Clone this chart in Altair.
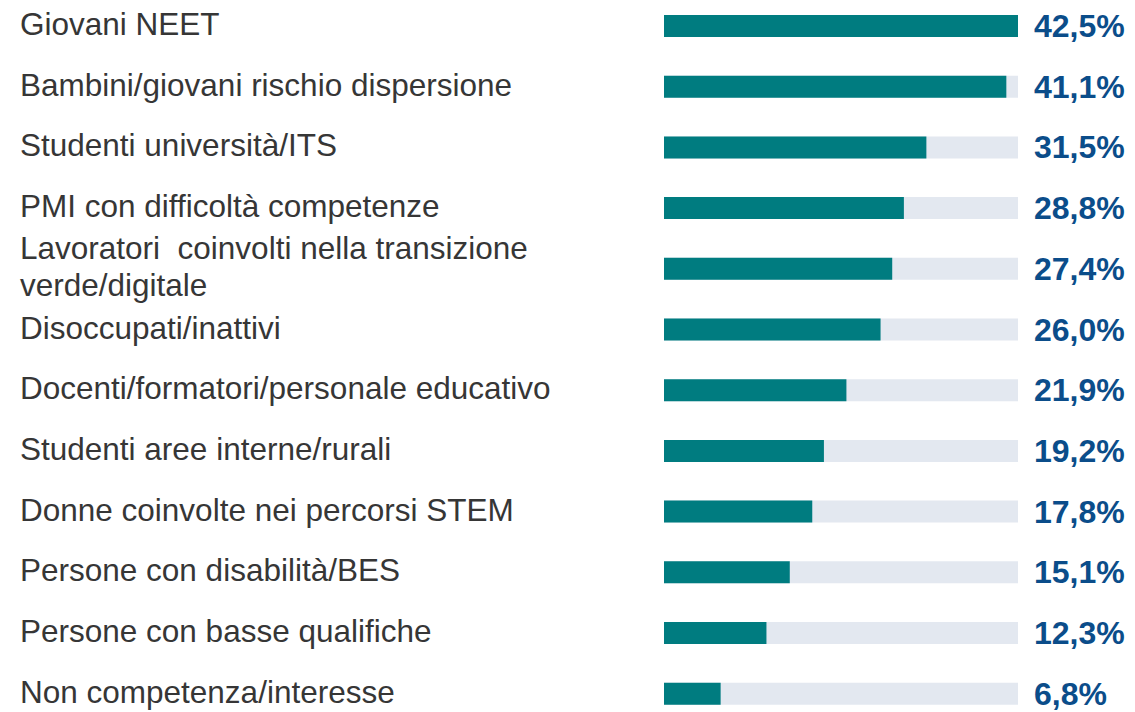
import altair as alt
import pandas as pd

categories = [
    "Giovani NEET",
    "Bambini/giovani rischio dispersione",
    "Studenti università/ITS",
    "PMI con difficoltà competenze",
    "Lavoratori\u00a0 coinvolti nella transizione\nverde/digitale",
    "Disoccupati/inattivi",
    "Docenti/formatori/personale educativo",
    "Studenti aree interne/rurali",
    "Donne coinvolte nei percorsi STEM",
    "Persone con disabilità/BES",
    "Persone con basse qualifiche",
    "Non competenza/interesse",
]
values = [42.5, 41.1, 31.5, 28.8, 27.4, 26.0, 21.9, 19.2, 17.8, 15.1, 12.3, 6.8]
track_max = 42.5

df = pd.DataFrame({"cat": categories, "v": values, "full": [track_max] * len(values)})

W, H = 1119, 702
step = 60.7
r0 = 18 - step / 2
x_scale = alt.Scale(domain=[0, track_max], range=[656, 1010])
y_scale = alt.Scale(domain=categories, range=[r0, r0 + step * len(categories)],
                    paddingInner=0, paddingOuter=0)
y_enc = alt.Y("cat:N", scale=y_scale, axis=None, sort=None)

base = alt.Chart(df)

track = base.mark_bar(color="#E3E8F0", height=22).encode(
    x=alt.X("zero:Q", scale=x_scale, axis=None),
    x2="full:Q",
    y=y_enc,
).transform_calculate(zero="0")

bars = base.mark_bar(color="#007C80", height=22).encode(
    x=alt.X("zero:Q", scale=x_scale, axis=None),
    x2="v:Q",
    y=y_enc,
).transform_calculate(zero="0")

label_style = dict(align="left", baseline="middle", font="Liberation Sans", fontSize=31.5,
                   color="#363636", lineBreak="\n", lineHeight=37)

labels_single = base.mark_text(**label_style).encode(
    x=alt.value(12),
    y=y_enc,
    text="cat:N",
).transform_filter("indexof(datum.cat, '\\n') < 0")

labels_multi = base.mark_text(dy=-19, **label_style).encode(
    x=alt.value(12),
    y=y_enc,
    text="cat:N",
).transform_filter("indexof(datum.cat, '\\n') >= 0")

vals = base.mark_text(
    align="left", baseline="middle", font="Liberation Sans", fontSize=32,
    fontWeight="bold", color="#0B4D8A", dy=1,
).encode(
    x=alt.value(1026),
    y=y_enc,
    text="lbl:N",
).transform_calculate(lbl="replace(format(datum.v, '.1f'), '.', ',') + '%'")

chart = alt.layer(track, bars, labels_single, labels_multi, vals).properties(
    width=W, height=H, autosize=alt.AutoSizeParams(type="none"), padding=0,
    background="white",
).configure_view(stroke=None)

chart.save("out.html", embed_options={"renderer": "svg", "actions": False})
